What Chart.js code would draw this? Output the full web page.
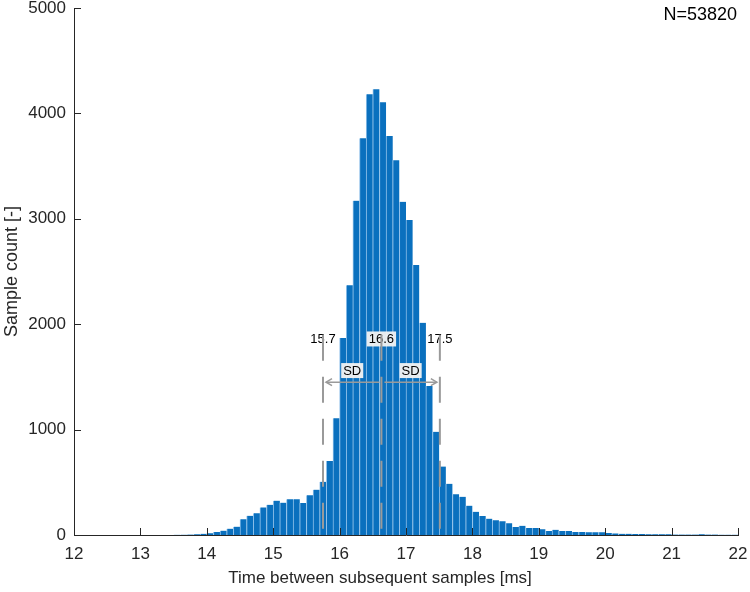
<!DOCTYPE html>
<html><head><meta charset="utf-8">
<script src="https://cdn.jsdelivr.net/npm/chart.js@4.4.1/dist/chart.umd.min.js"></script>
<style>html,body{margin:0;padding:0;background:#fff;}</style>
</head><body>
<canvas id="c" width="750" height="592"></canvas>
<script>
// ---- data ----
const binStarts = [13.5,13.6,13.7,13.8,13.9,14.0,14.1,14.2,14.3,14.4,14.5,14.6,14.7,14.8,14.9,
  15.0,15.1,15.2,15.3,15.4,15.5,15.6,15.7,15.8,15.9,16.0,16.1,16.2,16.3,16.4,16.5,16.6,16.7,16.8,16.9,
  17.0,17.1,17.2,17.3,17.4,17.5,17.6,17.7,17.8,17.9,18.0,18.1,18.2,18.3,18.4,18.5,18.6,18.7,18.8,18.9,
  19.0,19.1,19.2,19.3,19.4,19.5,19.6,19.7,19.8,19.9,20.0,20.1,20.2,20.3,20.4,20.5,20.6,20.7,20.8,20.9,
  21.0,21.1,21.2,21.3,21.4,21.5,21.6,21.7,21.8,21.9];
const counts = [2,3,5,8,11,16,28,41,60,79,149,183,206,262,287,
  326,307,338,338,303,378,430,505,702,1107,1869,2369,3172,3764,4181,4229,4105,3786,3555,3162,
  2989,2562,2014,1414,980,650,486,386,362,278,221,180,155,139,130,111,76,88,66,66,
  54,38,50,38,38,28,28,25,25,25,19,15,12,12,10,9,8,7,7,6,
  5,5,5,4,6,5,4,3,3,3];
const binWidth = 0.1;
const xTicks = [12,13,14,15,16,17,18,19,20,21,22];
const yTicks = [0,1000,2000,3000,4000,5000];
const statValues = [15.75, 16.63, 17.51];   // mean - SD, mean, mean + SD
const statLabels = ['15.7','16.6','17.5'];
const sdLabels = ['SD','SD'];
const sampleLabel = 'N=53820';
const xTitle = 'Time between subsequent samples [ms]';
const yTitle = 'Sample count [-]';
const statLabelLevel = 1860;
const sdLabelLevel = 1560;
const arrowLevel = 1450;

const FONT = '"Liberation Sans", Arial, Helvetica, sans-serif';
const AX = '#262626';
const GRAY = '#9a9a9a';

const points = binStarts.map((b, i) => ({x: b + binWidth / 2, y: counts[i]}));

function labelBox(ctx, text, cx, cy, size, bg) {
  ctx.font = size + 'px ' + FONT;
  const w = ctx.measureText(text).width;
  if (bg) {
    ctx.fillStyle = bg;
    ctx.fillRect(cx - w / 2 - 2, cy - size / 2 - 1, w + 4, size + 2);
  }
  ctx.fillStyle = '#000';
  ctx.textAlign = 'center';
  ctx.textBaseline = 'middle';
  ctx.fillText(text, cx, cy + 0.5);
}

const overlay = {
  id: 'overlay',
  afterDatasetsDraw(chart) {
    const {ctx, chartArea, scales: {x, y}} = chart;
    ctx.save();
    const ly = y.getPixelForValue(statLabelLevel);
    statValues.forEach((v, i) => {
      labelBox(ctx, statLabels[i], x.getPixelForValue(v), ly, 13, i === 1 ? 'rgba(242,242,242,0.95)' : null);
    });
    ctx.strokeStyle = GRAY;
    ctx.lineWidth = 2;
    ctx.setLineDash([26, 16]);
    statValues.forEach(v => {
      const px = x.getPixelForValue(v);
      ctx.beginPath();
      ctx.moveTo(px, y.getPixelForValue(statLabelLevel + 40));
      ctx.lineTo(px, y.getPixelForValue(0));
      ctx.stroke();
    });
    ctx.setLineDash([]);
    const ay = y.getPixelForValue(arrowLevel);
    const mx = x.getPixelForValue(statValues[1]);
    const lx = x.getPixelForValue(statValues[0]);
    const rx = x.getPixelForValue(statValues[2]);
    ctx.lineWidth = 1.5;
    [[mx - 2, lx + 3], [mx + 3, rx - 3]].forEach(([from, to]) => {
      ctx.beginPath();
      ctx.moveTo(from, ay); ctx.lineTo(to, ay); ctx.stroke();
      const d = to < from ? 1 : -1;
      ctx.beginPath();
      ctx.moveTo(to + d * 6, ay - 3.5); ctx.lineTo(to, ay); ctx.lineTo(to + d * 6, ay + 3.5);
      ctx.stroke();
    });
    const sy = y.getPixelForValue(sdLabelLevel);
    labelBox(ctx, sdLabels[0], (lx + mx) / 2, sy, 13, 'rgba(242,242,242,0.95)');
    labelBox(ctx, sdLabels[1], (mx + rx) / 2, sy, 13, 'rgba(242,242,242,0.95)');
    ctx.strokeStyle = AX;
    ctx.lineWidth = 1;
    xTicks.forEach(v => {
      const px = Math.round(x.getPixelForValue(v)) + 0.5;
      ctx.beginPath(); ctx.moveTo(px, chartArea.bottom); ctx.lineTo(px, chartArea.bottom - 7); ctx.stroke();
    });
    yTicks.forEach(v => {
      const py = Math.round(y.getPixelForValue(v)) + 0.5;
      ctx.beginPath(); ctx.moveTo(chartArea.left, py); ctx.lineTo(chartArea.left + 7, py); ctx.stroke();
    });
    ctx.font = '18px ' + FONT;
    ctx.fillStyle = '#000';
    ctx.textAlign = 'right';
    ctx.textBaseline = 'middle';
    ctx.fillText(sampleLabel, chartArea.right - 1, chartArea.top + 7);
    // x axis title (sits slightly left of the axis centre, as in the original figure)
    ctx.font = '17px ' + FONT;
    ctx.fillStyle = AX;
    ctx.textAlign = 'center';
    ctx.fillText(xTitle, (chartArea.left + chartArea.right) / 2 - 26, chartArea.bottom + 43);
    ctx.restore();
  }
};

new Chart(document.getElementById('c'), {
  type: 'bar',
  data: {
    datasets: [{
      data: points,
      backgroundColor: '#0a70be',
      borderColor: '#8fc0ea',
      borderWidth: {left: 1, right: 0, top: 0, bottom: 0},
      borderSkipped: false,
      barPercentage: 1,
      categoryPercentage: 1
    }]
  },
  options: {
    responsive: false,
    animation: false,
    layout: {padding: {top: 8, right: 12, left: 0, bottom: 0}},
    plugins: {legend: {display: false}, tooltip: {enabled: false}},
    scales: {
      x: {
        type: 'linear', min: 12, max: 22, offset: false,
        grid: {display: false, drawTicks: false, offset: false},
        border: {display: true, color: AX, width: 1},
        ticks: {stepSize: 1, color: AX, padding: 9, font: {family: FONT, size: 17}, maxRotation: 0, autoSkip: false,
          callback: v => String(v)},
        title: {display: false},
        afterFit(s) { s.height = 57; s.paddingLeft = 0; s.paddingRight = 0; }
      },
      y: {
        min: 0, max: 5000,
        grid: {display: false, drawTicks: false},
        border: {display: true, color: AX, width: 1},
        ticks: {stepSize: 1000, color: AX, padding: 8, font: {family: FONT, size: 17},
          callback: v => String(v)},
        title: {display: true, text: yTitle, color: AX,
          font: {family: FONT, size: 18}, padding: {top: 1, bottom: 0}},
        afterFit(s) { s.width = 74; s.paddingTop = 0; s.paddingBottom = 0; }
      }
    }
  },
  plugins: [overlay]
});
</script>
</body></html>
